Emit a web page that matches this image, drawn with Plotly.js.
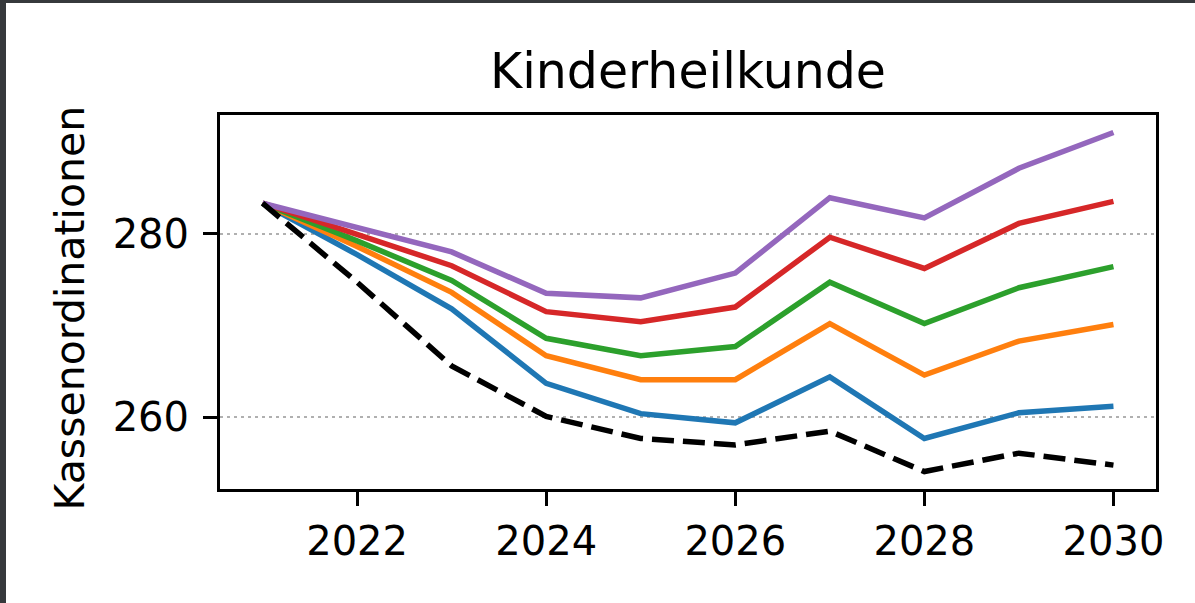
<!DOCTYPE html>
<html>
<head>
<meta charset="utf-8">
<script src="https://cdn.plot.ly/plotly-3.0.1.min.js"></script>
<style>
  html, body { margin: 0; padding: 0; background: #36393c; width: 1195px; height: 603px; overflow: hidden; }
  #chart { position: absolute; left: 6px; top: 3px; width: 1189px; height: 600px; background: #ffffff; }
</style>
</head>
<body>
<div id="chart"></div>
<script>
const years = [2021, 2022, 2023, 2024, 2025, 2026, 2027, 2028, 2029, 2030];
const seriesBlue   = [283.3, 277.7, 271.8, 263.7, 260.4, 259.4, 264.4, 257.7, 260.5, 261.2];
const seriesOrange = [283.3, 278.6, 273.6, 266.7, 264.1, 264.1, 270.2, 264.6, 268.3, 270.1];
const seriesGreen  = [283.3, 279.2, 274.9, 268.6, 266.7, 267.7, 274.7, 270.2, 274.1, 276.4];
const seriesRed    = [283.3, 279.9, 276.5, 271.5, 270.4, 272.0, 279.6, 276.2, 281.1, 283.5];
const seriesPurple = [283.3, 280.7, 278.0, 273.5, 273.0, 275.7, 283.9, 281.7, 287.1, 291.0];
const seriesBlack  = [283.3, 274.7, 265.6, 260.1, 257.7, 257.0, 258.5, 254.1, 256.1, 254.8];
const xTickVals = [2022, 2024, 2026, 2028, 2030];
const xTickText = ['2022', '2024', '2026', '2028', '2030'];
const yTickVals = [260, 280];
const yTickText = ['260', '280'];
const titleText = 'Kinderheilkunde';
const yTitleText = 'Kassenordinationen';

const colors = ['#1f77b4', '#ff7f0e', '#2ca02c', '#d62728', '#9467bd'];
const allSeries = [seriesBlue, seriesOrange, seriesGreen, seriesRed, seriesPurple];

const traces = allSeries.map((ys, i) => ({
  x: years, y: ys, type: 'scatter', mode: 'lines',
  line: { color: colors[i], width: 5.5 },
  showlegend: false, hoverinfo: 'skip'
}));
traces.push({
  x: years, y: seriesBlack, type: 'scatter', mode: 'lines',
  line: { color: '#000000', width: 5.5, dash: '22px,9px' },
  showlegend: false, hoverinfo: 'skip'
});

const layout = {
  width: 1189, height: 600,
  paper_bgcolor: '#ffffff', plot_bgcolor: '#ffffff',
  font: { family: 'DejaVu Sans', color: '#000000', size: 40 },
  margin: { l: 214, r: 39, t: 112, b: 114, pad: 0 },
  title: {
    text: titleText, font: { size: 49, color: '#000000' },
    x: 0.5, xref: 'paper', xanchor: 'center',
    y: 1 - 68 / 600, yref: 'container', yanchor: 'middle'
  },
  xaxis: {
    range: [2020.55, 2030.45], tickmode: 'array', tickvals: xTickVals, ticktext: xTickText,
    ticks: 'outside', ticklen: 14, tickwidth: 3, tickcolor: '#000000',
    showline: true, linecolor: '#000000', linewidth: 3, mirror: true,
    showgrid: false, zeroline: false, automargin: false,
    tickfont: { size: 40, color: '#000000' }, ticklabelstandoff: 1
  },
  yaxis: {
    range: [252.2, 292.9], tickmode: 'array', tickvals: yTickVals, ticktext: yTickText,
    ticks: 'outside', ticklen: 14, tickwidth: 3, tickcolor: '#000000',
    showline: true, linecolor: '#000000', linewidth: 3, mirror: true,
    showgrid: true, gridcolor: '#b0b0b0', gridwidth: 2, griddash: '3px,4px',
    zeroline: false, automargin: false,
    tickfont: { size: 40, color: '#000000' }, ticklabelstandoff: 6
  },
  annotations: [{
    text: yTitleText, textangle: -90, showarrow: false,
    xref: 'paper', yref: 'paper',
    x: (63 - 214) / 936, xanchor: 'center',
    y: 1 - (305.5 - 112) / 374, yanchor: 'middle',
    font: { size: 41, color: '#000000', family: 'DejaVu Sans' }
  }]
};

Plotly.newPlot('chart', traces, layout, { displayModeBar: false, staticPlot: true });
</script>
</body>
</html>
